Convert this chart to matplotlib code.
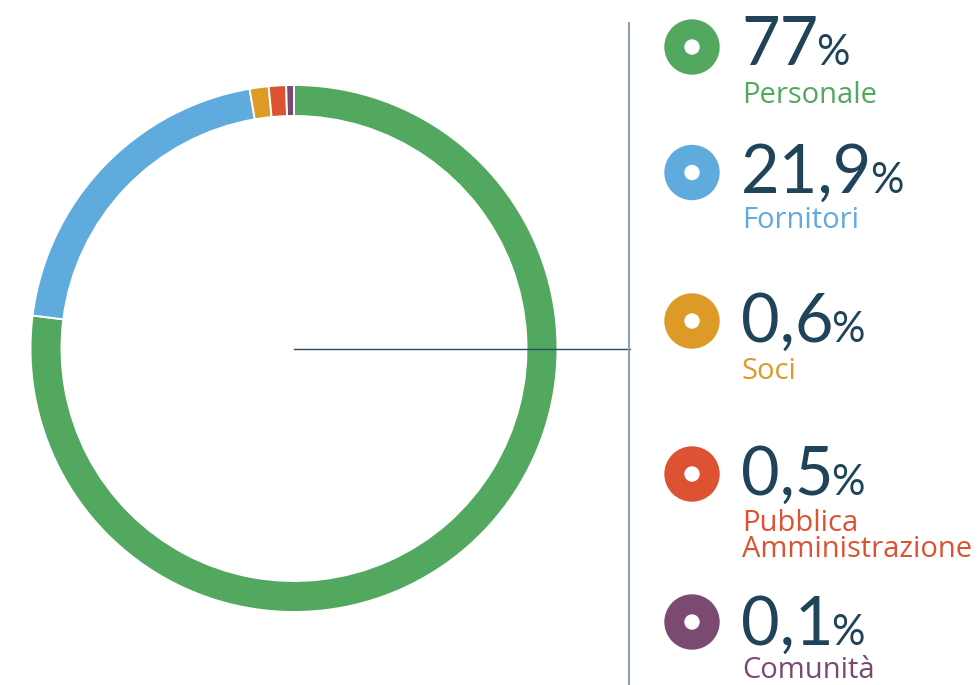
import numpy as np
import matplotlib
matplotlib.use("Agg")
import matplotlib.pyplot as plt

# ---- data ----
categories = ["Personale", "Fornitori", "Soci", "Pubblica\nAmministrazione", "Comunità"]
values = [77.0, 21.9, 0.6, 0.5, 0.1]
value_labels = ["77", "21,9", "0,6", "0,5", "0,1"]
colors = ["#52a85e", "#5fabdd", "#de9a27", "#dc5232", "#7b4a70"]
navy = "#1f4459"

# Small slices are enlarged for visibility (as in the reference); the
# second slice absorbs the difference so the ring stays complete.
disp = [v if v >= 1 else 1.5 * np.sqrt(v) for v in values]
disp[1] = 100 - disp[0] - sum(disp[2:])

W, H = 979, 685
fig = plt.figure(figsize=(W / 100, H / 100), dpi=100)
ax = fig.add_axes([0, 0, 1, 1])

cx, cy, R, ring = 294, H - 348.5, 263.5, 31
ax.pie(disp, colors=colors, startangle=90, counterclock=False,
       center=(cx, cy), radius=R,
       wedgeprops=dict(width=ring, edgecolor="white", linewidth=1.4))

# connector lines
ax.plot([cx, 630], [cy, cy], color="#2c4c63", lw=1.0, zorder=5)
ax.plot([629.5, 629.5], [H - 23, 0], color="#8ea0ae", lw=1.5, zorder=5)

# legend
circle_y = [47, 172.5, 321, 474, 622]
num_base = [65, 193, 342, 495, 645]
lab_base = [103, 228, 379, 557, 678]   # baseline of the last label line
tx = 741
for i in range(len(values)):
    y = H - circle_y[i]
    ax.add_patch(plt.Circle((692, y), 27, color=colors[i], zorder=6))
    ax.add_patch(plt.Circle((692, y), 7, color="white", zorder=7))
    t = ax.text(tx, H - num_base[i], value_labels[i], fontsize=48, color=navy,
                family="Lato", va="baseline", ha="left")
    ax.annotate("%", xy=(1.0, H - num_base[i]), xycoords=(t, "data"),
                xytext=(-1.5, 0), textcoords="offset points",
                fontsize=30, color=navy, family="Lato", va="baseline", ha="left")
    ax.text(tx + 1, H - lab_base[i], categories[i], fontsize=21,
            color=colors[i], family="Open Sans", va="baseline", ha="left",
            linespacing=0.86)

ax.set_xlim(0, W)
ax.set_ylim(0, H)
ax.set_aspect("equal", adjustable="box")
ax.axis("off")
fig.savefig("out.png", dpi=100, facecolor="white")
